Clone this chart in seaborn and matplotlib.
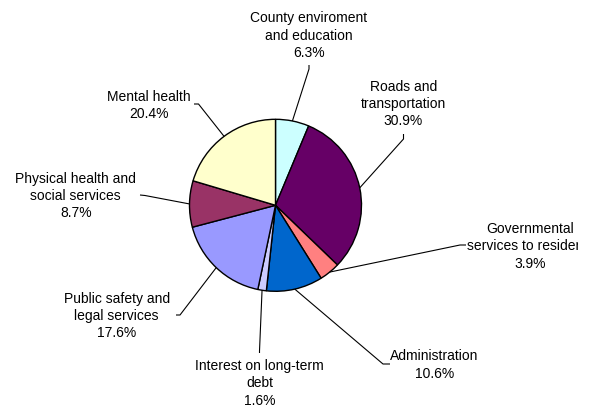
import numpy as np
import seaborn as sns
import matplotlib.pyplot as plt
from matplotlib.transforms import Bbox, TransformedBbox

# County budget shares (percent), clockwise from the top
categories = ['County enviroment\nand education', 'Roads and\ntransportation',
              'Governmental\nservices to residents', 'Administration',
              'Interest on long-term\ndebt', 'Public safety and\nlegal services',
              'Physical health and\nsocial services', 'Mental health']
shares = [6.3, 30.9, 3.9, 10.6, 1.6, 17.6, 8.7, 20.4]
colors = ['#CCFFFF', '#660066', '#FF8080', '#0066CC',
          '#CCCCFF', '#9999FF', '#993366', '#FFFFCC']

# label block centres and leader elbow points, in pixels from top-left
label_pos = [(309, 35.5), (403.5, 104), (530.5, 246.5), (434.5, 365),
             (259.5, 383.5), (116.7, 316), (75.8, 196), (148.7, 105.2)]
elbows = [[(309, 66), (309, 70)], [(403.5, 135), (403.5, 140)],
          [(466, 246), (460, 246)], [(390, 365), (383, 365)],
          [(259.5, 354), (259.5, 352)], [(176, 316), (180, 316)],
          [(140, 196), (145, 196.5)], [(194, 105), (198.5, 105)]]

W, H = 589, 406
CX, CY, R = 275.5, 206.3, 86
PLOT_RIGHT = 577.5  # chart area edge: labels past it get clipped

sns.set_style('white')
plt.rcParams['font.family'] = ['Liberation Sans', 'DejaVu Sans']

fig = plt.figure(figsize=(W / 100, H / 100), dpi=100)
ax = fig.add_axes([0, 0, 1, 1])
ax.set_xlim(0, W)
ax.set_ylim(0, H)
ax.set_aspect('equal')
ax.axis('off')

wedges, _ = ax.pie(shares, colors=colors, startangle=90, counterclock=False,
                   center=(CX, H - CY), radius=R,
                   wedgeprops=dict(edgecolor='black', linewidth=1.0))
ax.set_xlim(0, W)
ax.set_ylim(0, H)

clip = TransformedBbox(Bbox([[0, 0], [PLOT_RIGHT, H]]), ax.transData)

for w, cat, val, (lx, ly), pts in zip(wedges, categories, shares, label_pos, elbows):
    t = ax.text(lx, H - ly, f'{cat}\n{val:.1f}%', ha='center', va='center',
                fontsize=10, linespacing=1.3, color='black')
    t.set_clip_box(clip)
    t.set_clip_on(True)
    mid = np.deg2rad((w.theta1 + w.theta2) / 2)
    ex, ey = CX + R * np.cos(mid), (H - CY) + R * np.sin(mid)
    xs = [p[0] for p in pts] + [ex]
    ys = [H - p[1] for p in pts] + [ey]
    ax.plot(xs, ys, color='black', linewidth=0.8, solid_capstyle='butt')

fig.savefig('out.png', dpi=100)
